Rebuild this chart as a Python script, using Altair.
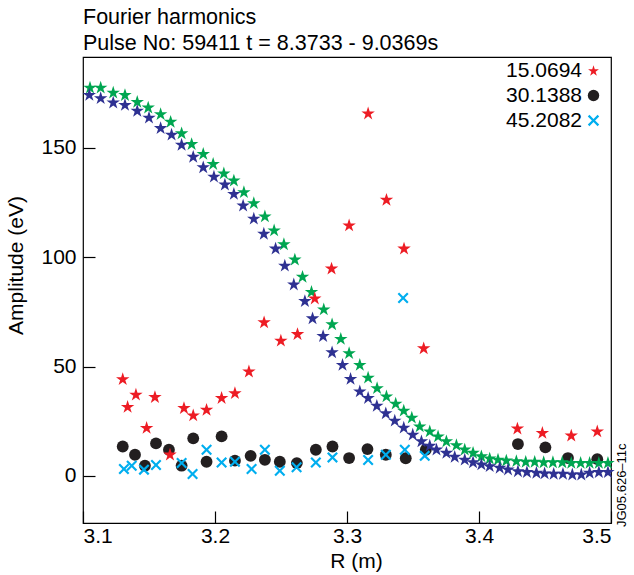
import altair as alt
import pandas as pd

TITLE_LINES = ["Fourier harmonics", "Pulse No: 59411 t = 8.3733 - 9.0369s"]
X_TITLE = "R (m)"
Y_TITLE = "Amplitude (eV)"
NOTE = "JG05.626\u201311c"
X_TICKS = [3.1, 3.2, 3.3, 3.4, 3.5]
Y_TICKS = [0, 50, 100, 150]
HARMONICS = ["15.0694", "30.1388", "45.2082"]

# green stars (no legend entry)
GREEN_R = [3.1053, 3.1134, 3.1229, 3.1318, 3.1411, 3.1494, 3.1588, 3.1664, 3.1747, 3.1823,
           3.1911, 3.1986, 3.2067, 3.2143, 3.2219, 3.2294, 3.2378, 3.2448, 3.2522, 3.2605,
           3.2663, 3.2731, 3.2824, 3.2887, 3.2953, 3.3016, 3.3097, 3.3160, 3.3228, 3.3299,
           3.3369, 3.3430, 3.3491, 3.3551, 3.3627, 3.3690, 3.3753, 3.3829, 3.3892, 3.3955,
           3.4018, 3.4081, 3.4144, 3.4207, 3.4283, 3.4354, 3.4422, 3.4490, 3.4560, 3.4631,
           3.4699, 3.4770, 3.4838, 3.4908, 3.4977]
GREEN_A = [177.8, 177.8, 175.5, 174.4, 171.3, 168.7, 165.7, 162.2, 156.9, 152.0,
           147.5, 142.9, 138.6, 135.3, 130.0, 125.0, 118.9, 112.5, 106.2, 99.2,
           91.3, 84.4, 76.4, 69.6, 62.9, 56.4, 51.0, 45.2, 40.4, 36.6,
           33.3, 30.1, 26.9, 22.9, 20.6, 18.3, 16.1, 14.3, 12.3, 10.8,
           9.2, 8.2, 7.7, 7.3, 7.0, 6.7, 6.7, 6.5, 6.5, 6.5,
           6.2, 6.2, 6.2, 6.2, 6.2]

# navy stars (no legend entry)
NAVY_R = [3.1048, 3.1134, 3.1229, 3.1318, 3.1411, 3.1500, 3.1588, 3.1671, 3.1747, 3.1835,
          3.1911, 3.1992, 3.2075, 3.2143, 3.2213, 3.2294, 3.2370, 3.2459, 3.2529, 3.2597,
          3.2681, 3.2739, 3.2819, 3.2887, 3.2966, 3.3027, 3.3097, 3.3160, 3.3226, 3.3294,
          3.3362, 3.3430, 3.3498, 3.3564, 3.3627, 3.3678, 3.3753, 3.3816, 3.3892, 3.3955,
          3.4018, 3.4081, 3.4157, 3.4220, 3.4295, 3.4363, 3.4435, 3.4497, 3.4566, 3.4636,
          3.4707, 3.4775, 3.4838, 3.4908, 3.4977]
NAVY_A = [174.5, 173.0, 171.0, 169.9, 167.2, 164.1, 159.3, 156.3, 151.7, 146.2,
          141.4, 137.1, 133.5, 129.2, 123.9, 117.9, 111.0, 104.2, 96.4, 87.8,
          80.2, 72.3, 64.2, 56.8, 51.0, 44.6, 38.9, 35.9, 32.3, 28.9,
          25.5, 22.3, 19.1, 16.1, 14.1, 12.3, 10.8, 9.0, 7.7, 6.5,
          5.5, 4.7, 4.0, 3.2, 2.4, 2.0, 1.7, 1.4, 1.2, 1.2,
          0.9, 0.9, 1.7, 2.0, 2.0]

# 15.0694 harmonic (red stars)
RED_R = [3.1301, 3.1338, 3.1401, 3.1482, 3.1545, 3.1659, 3.1765, 3.1835, 3.1936, 3.2050,
         3.2151, 3.2257, 3.2372, 3.2499, 3.2625, 3.2756, 3.2883, 3.3016, 3.3160, 3.3299,
         3.3432, 3.3581, 3.4291, 3.4480, 3.4699, 3.4896]
RED_A = [44.5, 31.8, 37.4, 22.2, 36.3, 10.0, 31.3, 27.9, 30.5, 35.9,
         38.1, 48.0, 70.5, 62.1, 65.1, 81.4, 95.1, 114.8, 166.0, 126.5,
         104.2, 58.6, 21.9, 19.9, 18.7, 20.6]

# 30.1388 harmonic (black circles)
BLACK_R = [3.1301, 3.1394, 3.1469, 3.1553, 3.1651, 3.1747, 3.1835, 3.1936, 3.2050, 3.2151,
           3.2270, 3.2378, 3.2491, 3.2620, 3.2764, 3.2890, 3.3016, 3.3155, 3.3294, 3.3445,
           3.3597, 3.4295, 3.4503, 3.4674, 3.4896]
BLACK_A = [13.5, 9.7, 4.7, 14.9, 12.0, 4.7, 17.2, 6.5, 18.1, 7.0,
           9.2, 7.4, 6.5, 5.9, 12.0, 13.5, 8.2, 12.3, 9.7, 8.1,
           12.0, 14.6, 13.1, 8.2, 7.7]

# 45.2082 harmonic (cyan crosses)
CYAN_R = [3.1310, 3.1369, 3.1462, 3.1553, 3.1747, 3.1830, 3.1936, 3.2050, 3.2151, 3.2277,
          3.2378, 3.2491, 3.2618, 3.2764, 3.2890, 3.3160, 3.3294, 3.3425, 3.3438, 3.3589]
CYAN_A = [3.2, 4.7, 2.9, 5.0, 5.9, 0.9, 12.0, 6.2, 6.5, 3.2,
          12.0, 2.4, 4.0, 6.2, 8.5, 7.3, 9.7, 81.4, 12.0, 9.2]

FONT = "Liberation Sans"
C_RED = "#ED1C24"
C_BLACK = "#231F20"
C_CYAN = "#00AEEF"
C_GREEN = "#00A651"
C_NAVY = "#2E3192"

STAR = ("M0,-0.9045L0.2245,-0.2135L0.9511,-0.2135L0.3633,0.2135L0.5878,0.9045"
        "L0,0.4775L-0.5878,0.9045L-0.3633,0.2135L-0.9511,-0.2135L-0.2245,-0.2135Z")
XMARK = ("M-1,-0.72L-0.72,-1L0,-0.28L0.72,-1L1,-0.72L0.28,0L1,0.72L0.72,1L0,0.28"
         "L-0.72,1L-1,0.72L-0.28,0Z")

x_enc = alt.X("R:Q", scale=alt.Scale(domain=[3.1, 3.5], nice=False, zero=False),
              axis=alt.Axis(title=X_TITLE, values=X_TICKS, format=".1f", offset=-12,
                            tickSize=12, labelPadding=2, titlePadding=4, domain=False,
                            grid=False, titleX=273))
y_enc = alt.Y("A:Q", scale=alt.Scale(domain=[-21.5, 191.6], nice=False, zero=False),
              axis=alt.Axis(title=Y_TITLE, values=Y_TICKS, offset=-12, tickSize=12,
                            labelPadding=7, titlePadding=14, domain=False, grid=False,
                            titleY=208))

color_enc = alt.Color("series:N",
                      scale=alt.Scale(domain=HARMONICS, range=[C_RED, C_BLACK, C_CYAN]),
                      legend=alt.Legend(title=None, orient="none", legendX=500, legendY=3,
                                        labelAlign="right", labelOffset={"expr": "-22"},
                                        labelFontSize=21, labelFont=FONT,
                                        labelColor="black", symbolSize=130,
                                        symbolStrokeWidth=0, rowPadding=3, padding=0))
shape_enc = alt.Shape("series:N",
                      scale=alt.Scale(domain=HARMONICS, range=[STAR, "circle", XMARK]),
                      legend=None)

def frame(rs, amps, name=None):
    d = {"R": rs, "A": amps}
    if name is not None:
        d["series"] = [name] * len(rs)
    return pd.DataFrame(d)

black = alt.Chart(frame(BLACK_R, BLACK_A, HARMONICS[1])).mark_point(
    filled=True, size=140, opacity=1).encode(x=x_enc, y=y_enc, color=color_enc, shape=shape_enc)
green = alt.Chart(frame(GREEN_R, GREEN_A)).mark_point(
    filled=True, size=200, opacity=1, shape=STAR, color=C_GREEN).encode(x=x_enc, y=y_enc)
navy = alt.Chart(frame(NAVY_R, NAVY_A)).mark_point(
    filled=True, size=200, opacity=1, shape=STAR, color=C_NAVY).encode(x=x_enc, y=y_enc)
cyan = alt.Chart(frame(CYAN_R, CYAN_A, HARMONICS[2])).mark_point(
    filled=True, size=121, opacity=1).encode(x=x_enc, y=y_enc, color=color_enc, shape=shape_enc)
red = alt.Chart(frame(RED_R, RED_A, HARMONICS[0])).mark_point(
    filled=True, size=200, opacity=1).encode(x=x_enc, y=y_enc, color=color_enc, shape=shape_enc)

note = alt.Chart(pd.DataFrame({"note": [NOTE]})).mark_text(
    angle=270, align="left", baseline="middle", fontSize=13, font=FONT, color="black"
).encode(text="note:N", x=alt.value(539), y=alt.value(470))

chart = alt.layer(black, green, navy, cyan, red, note).properties(
    width=528, height=466,
    autosize=alt.AutoSizeParams(type="none"),
    padding={"left": 83, "top": 57, "right": 23, "bottom": 52},
    background="white",
    title=alt.TitleParams(text=TITLE_LINES, anchor="start", frame="group", fontSize=21.5,
                          fontWeight="normal", font=FONT, color="black", lineHeight=25.5,
                          offset=3),
).configure_view(stroke="black", strokeWidth=1.2).configure_axis(
    labelFont=FONT, labelFontSize=21, labelColor="black", titleFont=FONT,
    titleFontSize=21, titleFontWeight="normal", titleColor="black",
    tickColor="black", tickWidth=1.2)

chart.save("out.html", embed_options={"renderer": "svg", "actions": False})
